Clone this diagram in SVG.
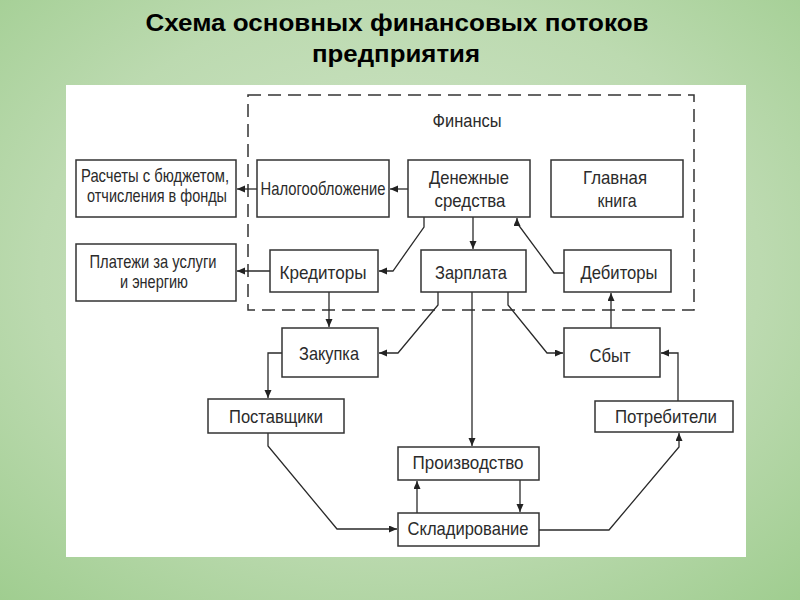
<svg xmlns="http://www.w3.org/2000/svg" width="800" height="600" viewBox="0 0 800 600">
<defs>
<radialGradient id="bg" cx="50%" cy="45%" r="75%">
<stop offset="0" stop-color="#d3e6cb"/>
<stop offset="0.6" stop-color="#bcdab0"/>
<stop offset="1" stop-color="#9fcd8f"/>
</radialGradient>
<marker id="ah" markerUnits="userSpaceOnUse" markerWidth="9" markerHeight="8" refX="8" refY="3.5" orient="auto">
<path d="M0,0 L8,3.5 L0,7 z" fill="#222"/>
</marker>
<style>
.box{fill:#fff;stroke:#333;stroke-width:1.5}
.t{font-family:"Liberation Sans",Arial,sans-serif;font-size:18.5px;fill:#2b2b2b;text-anchor:middle}
.c{fill:none;stroke:#2a2a2a;stroke-width:1.3;marker-end:url(#ah)}
.title{font-family:"Liberation Sans",Arial,sans-serif;font-weight:bold;font-size:23px;fill:#000;text-anchor:middle}
</style>
</defs>
<rect x="0" y="0" width="800" height="600" fill="url(#bg)"/>
<text class="title" x="397" y="31" textLength="503" lengthAdjust="spacingAndGlyphs">Схема основных финансовых потоков</text>
<text class="title" x="396" y="62" textLength="168" lengthAdjust="spacingAndGlyphs">предприятия</text>
<rect x="66" y="85" width="680" height="472" fill="#fff"/>
<g id="finance">
<rect x="248" y="95" width="446" height="215" fill="none" stroke="#333" stroke-width="1.5" stroke-dasharray="13,7"/>
<text class="t" x="467" y="127" textLength="69" lengthAdjust="spacingAndGlyphs">Финансы</text>
</g>
<g id="connectors">
<path class="c" d="M408,189 H390"/>
<path class="c" d="M257,189 H237"/>
<path class="c" d="M424,217 V227 L393,271 H379"/>
<path class="c" d="M473,217 V249"/>
<path class="c" d="M564,273 H554 L517,223 V218"/>
<path class="c" d="M270,271 H237"/>
<path class="c" d="M329,292 V327"/>
<path class="c" d="M438,292 V305 L398,353 H379"/>
<path class="c" d="M472,292 V446"/>
<path class="c" d="M508,292 V305 L547,353 H563"/>
<path class="c" d="M611,328 V293"/>
<path class="c" d="M678,401 V353 H661"/>
<path class="c" d="M282,353 H268 V398"/>
<path class="c" d="M268,433 V446 L337,529 H397"/>
<path class="c" d="M417,513 V481"/>
<path class="c" d="M520,480 V512"/>
<path class="c" d="M539,530 H609 L679,447 V433"/>
</g>
<g id="budget">
<rect class="box" x="76" y="160" width="160" height="57"/>
<text class="t" x="155" y="182" textLength="148" lengthAdjust="spacingAndGlyphs">Расчеты с бюджетом,</text>
<text class="t" x="157" y="202" textLength="140" lengthAdjust="spacingAndGlyphs">отчисления в фонды</text>
</g>
<g id="tax">
<rect class="box" x="257" y="160" width="132" height="57"/>
<text class="t" x="323" y="195" textLength="125" lengthAdjust="spacingAndGlyphs">Налогообложение</text>
</g>
<g id="cash">
<rect class="box" x="408" y="160" width="122" height="57"/>
<text class="t" x="469" y="184" textLength="80" lengthAdjust="spacingAndGlyphs">Денежные</text>
<text class="t" x="470" y="207" textLength="71" lengthAdjust="spacingAndGlyphs">средства</text>
</g>
<g id="ledger">
<rect class="box" x="551" y="160" width="132" height="57"/>
<text class="t" x="615" y="184" textLength="64" lengthAdjust="spacingAndGlyphs">Главная</text>
<text class="t" x="617" y="207" textLength="39" lengthAdjust="spacingAndGlyphs">книга</text>
</g>
<g id="utilities">
<rect class="box" x="76" y="244" width="160" height="57"/>
<text class="t" x="153" y="268" textLength="127" lengthAdjust="spacingAndGlyphs">Платежи за услуги</text>
<text class="t" x="154" y="288" textLength="68" lengthAdjust="spacingAndGlyphs">и энергию</text>
</g>
<g id="creditors">
<rect class="box" x="270" y="250" width="108" height="42"/>
<text class="t" x="323" y="279" textLength="87" lengthAdjust="spacingAndGlyphs">Кредиторы</text>
</g>
<g id="salary">
<rect class="box" x="421" y="250" width="105" height="42"/>
<text class="t" x="471" y="279" textLength="72" lengthAdjust="spacingAndGlyphs">Зарплата</text>
</g>
<g id="debtors">
<rect class="box" x="564" y="250" width="107" height="42"/>
<text class="t" x="619" y="279" textLength="77" lengthAdjust="spacingAndGlyphs">Дебиторы</text>
</g>
<g id="purchase">
<rect class="box" x="282" y="328" width="96" height="49"/>
<text class="t" x="329" y="360" textLength="60" lengthAdjust="spacingAndGlyphs">Закупка</text>
</g>
<g id="sales">
<rect class="box" x="564" y="328" width="96" height="49"/>
<text class="t" x="610" y="362" textLength="41" lengthAdjust="spacingAndGlyphs">Сбыт</text>
</g>
<g id="suppliers">
<rect class="box" x="208" y="399" width="136" height="34"/>
<text class="t" x="276" y="423" textLength="94" lengthAdjust="spacingAndGlyphs">Поставщики</text>
</g>
<g id="consumers">
<rect class="box" x="595" y="401" width="138" height="31"/>
<text class="t" x="666" y="423" textLength="102" lengthAdjust="spacingAndGlyphs">Потребители</text>
</g>
<g id="production">
<rect class="box" x="398" y="447" width="141" height="33"/>
<text class="t" x="468" y="469" textLength="111" lengthAdjust="spacingAndGlyphs">Производство</text>
</g>
<g id="storage">
<rect class="box" x="398" y="513" width="141" height="33"/>
<text class="t" x="468" y="535" textLength="121" lengthAdjust="spacingAndGlyphs">Складирование</text>
</g>
</svg>
